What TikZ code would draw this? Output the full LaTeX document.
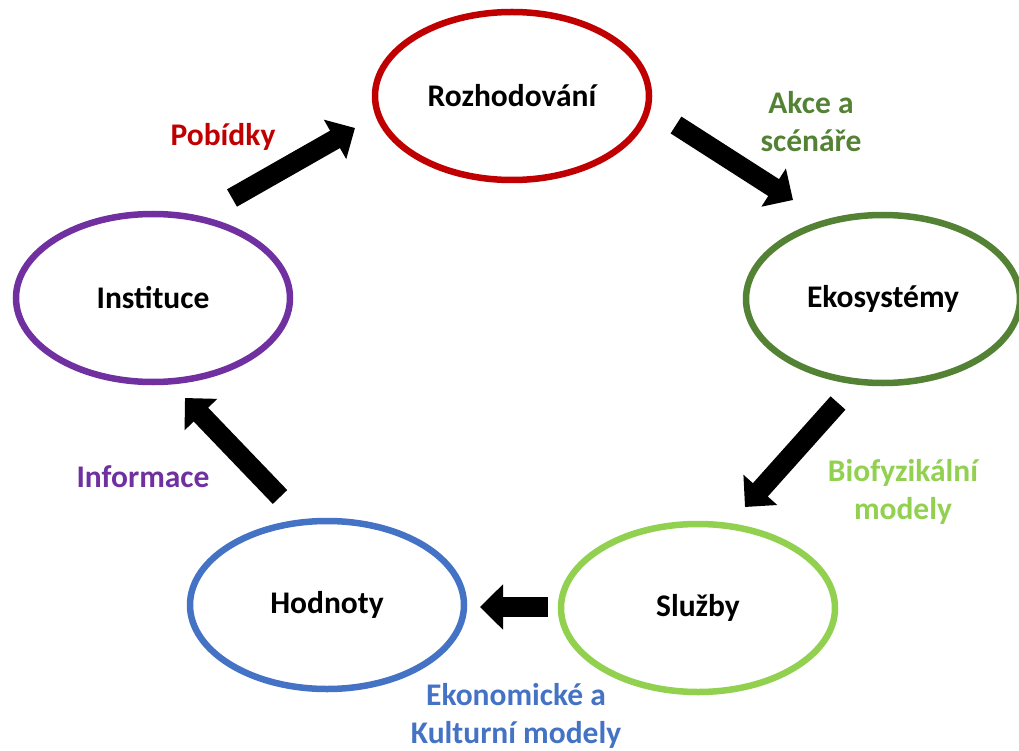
\documentclass[tikz,border=0pt]{standalone}
\usepackage{fontspec}
\setmainfont{Carlito}
\usetikzlibrary{shapes.geometric,arrows.meta}
\definecolor{cRed}{HTML}{C00000}
\definecolor{cDkGreen}{HTML}{548235}
\definecolor{cLtGreen}{HTML}{92D050}
\definecolor{cBlue}{HTML}{4472C4}
\definecolor{cPurple}{HTML}{7030A0}
\tikzset{
  oval/.style={ellipse, draw=#1, line width=6.5pt, minimum width=274pt, minimum height=168pt, inner sep=0pt,
    font=\fontsize{31.5}{36}\selectfont\bfseries, text=black},
  lbl/.style={text=#1, font=\fontsize{31.5}{38}\selectfont\bfseries, align=center, inner sep=0pt},
  blockarrow/.style={line width=20pt, draw=black, -{Triangle[width=44pt,length=23pt]}}
}
\begin{document}
\begin{tikzpicture}[x=1pt,y=-1pt]
\useasboundingbox (0,0) rectangle (1019,751);
\node[oval=cRed] (roz) at (512,96) {Rozhodování};
\node[oval=cDkGreen] (eko) at (883,299) {Ekosystémy};
\node[oval=cLtGreen] (slu) at (698,608) {Služby};
\node[oval=cBlue] (hod) at (327,605) {Hodnoty};
\node[oval=cPurple] (ins) at (153,298) {Instituce};

\node[lbl=cRed] (lpob) at (223,137) {Pobídky};
\node[lbl=cDkGreen] (lakce) at (811,122) {Akce a\\scénáře};
\node[lbl=cLtGreen] (lbio) at (903,492) {Biofyzikální\\modely};
\node[lbl=cBlue] (leko) at (516,716) {Ekonomické a\\Kulturní modely};
\node[lbl=cPurple] (linf) at (143,477) {Informace};

\coordinate (a1s) at (232,198); \coordinate (a1e) at (355,128);
\coordinate (a2s) at (676,125); \coordinate (a2e) at (793,200);
\coordinate (a3s) at (838,403); \coordinate (a3e) at (745,507);
\coordinate (a4s) at (548,607); \coordinate (a4e) at (480,607);
\coordinate (a5s) at (280,497); \coordinate (a5e) at (185,398);
\draw[blockarrow] (a1s) -- (a1e);
\draw[blockarrow] (a2s) -- (a2e);
\draw[blockarrow] (a3s) -- (a3e);
\draw[blockarrow] (a4s) -- (a4e);
\draw[blockarrow] (a5s) -- (a5e);
\end{tikzpicture}
\end{document}
